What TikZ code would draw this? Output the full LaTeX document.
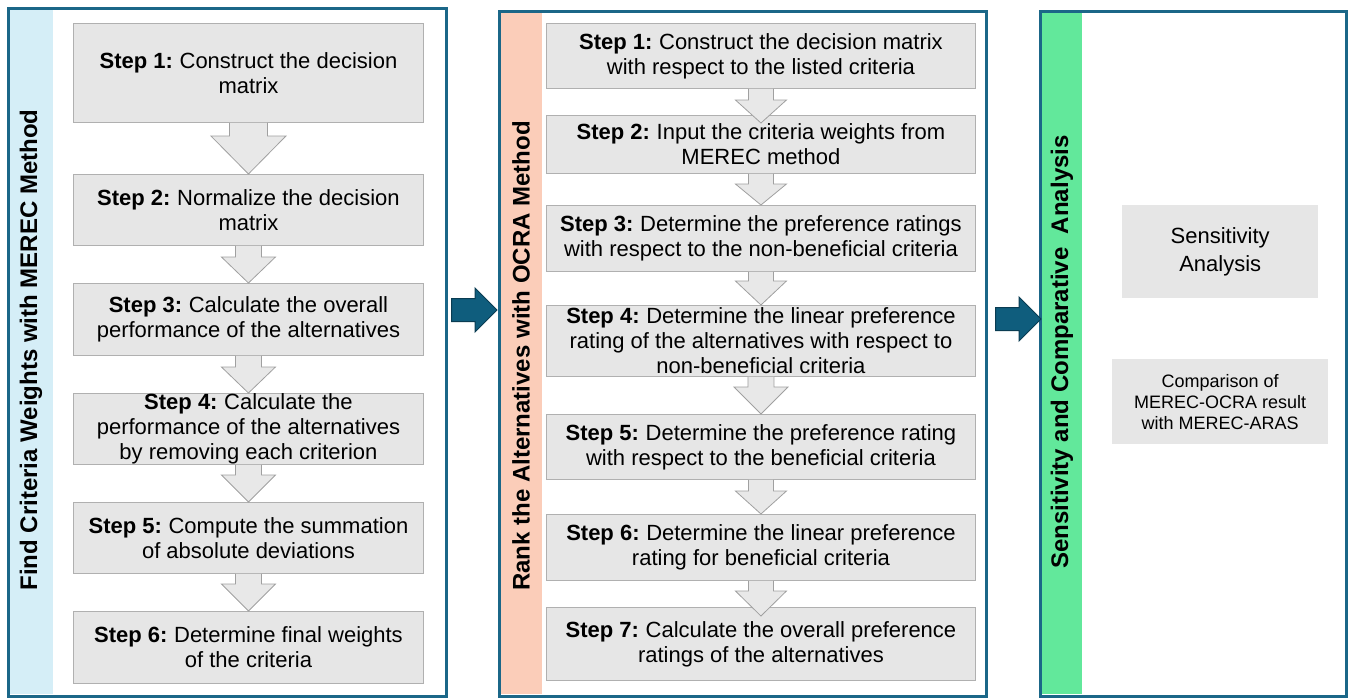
\documentclass[tikz,border=0pt]{standalone}
\usepackage{fontspec}
\setmainfont{Liberation Sans}
\usetikzlibrary{calc}
\definecolor{framec}{HTML}{1B6788}
\definecolor{stripA}{HTML}{D5EEF7}
\definecolor{stripB}{HTML}{FBCDB9}
\definecolor{stripC}{HTML}{62E89B}
\definecolor{boxfill}{HTML}{E6E6E6}
\definecolor{boxline}{HTML}{B0B0B0}
\definecolor{arrfill}{HTML}{E8E8E8}
\definecolor{arrline}{HTML}{A0A0A0}
\definecolor{bigfill}{HTML}{0F5D7D}
\definecolor{bigline}{HTML}{0A3C52}
\tikzset{
  panel/.style={draw=framec, line width=2.5pt, inner sep=0pt, anchor=north west},
  stepbox/.style={draw=boxline, line width=0.9pt, fill=boxfill, inner sep=0pt,
    anchor=north west, align=center, font=\fontsize{22}{25}\selectfont},
  sidebox/.style={fill=boxfill, inner sep=0pt, anchor=north west, align=center},
  vlabel/.style={rotate=90, font=\bfseries\fontsize{24}{28}\selectfont, inner sep=0pt},
  smallarrow/.style={draw=arrline, fill=arrfill, line width=0.8pt, line join=miter},
  bigarrow/.style={draw=bigline, fill=bigfill, line width=1pt, line join=miter}
}
\newcommand{\stp}[1]{\textbf{Step #1:}\hspace{-1.5pt}}
% #1 from, #2 to, #3 shaft half, #4 head half, #5 head length, #6 overlap of tip
\newcommand{\blockarr}[6]{%
  \path[smallarrow] let \p1=(#1.south), \p2=(#2.north) in
    (\x1-#3pt,\y1) -- (\x1-#3pt,\y2+#5pt-#6pt) -- (\x1-#4pt,\y2+#5pt-#6pt) --
    (\x1,\y2-#6pt) -- (\x1+#4pt,\y2+#5pt-#6pt) -- (\x1+#3pt,\y2+#5pt-#6pt) -- (\x1+#3pt,\y1);}
% #1 from panel, #2 to panel, #3 canvas y, #4 start offset, #5 tip offset
\newcommand{\bigarr}[5]{%
  \path[bigarrow] let \p1=(#1.east), \p2=(#2.west) in
    (\x1+#4pt,#3pt+11.5pt) -- (\x2+#5pt-22pt,#3pt+11.5pt) -- (\x2+#5pt-22pt,#3pt+22pt) --
    (\x2+#5pt,#3pt) -- (\x2+#5pt-22pt,#3pt-22pt) -- (\x2+#5pt-22pt,#3pt-11.5pt) --
    (\x1+#4pt,#3pt-11.5pt) -- cycle;}
\begin{document}
\begin{tikzpicture}[x=1pt,y=-1pt]
\useasboundingbox (0,0) rectangle (1349,697);
% side strips
\fill[stripA] (9,9) rectangle (53,694);
\fill[stripB] (500,12) rectangle (542,694);
\fill[stripC] (1041,12) rectangle (1082,694);
% panels
\node[panel, minimum width=438, minimum height=688] (P1) at (7,7) {};
\node[panel, minimum width=487, minimum height=685] (P2) at (498,10) {};
\node[panel, minimum width=306, minimum height=685] (P3) at (1039,10) {};
% vertical labels
\node[vlabel] (T1) at (31,350) {Find Criteria Weights with MEREC Method};
\node[vlabel] (T2) at (521,356) {Rank the Alternatives with OCRA Method};
\node[vlabel] (T3) at (1062,352) {Sensitivity and Comparative\ \ Analysis};
% left steps
\node[stepbox, minimum width=350, minimum height=99] (L1) at (73,23) {\stp{1} Construct the decision\\matrix};
\node[stepbox, minimum width=350, minimum height=71] (L2) at (73,174) {\stp{2} Normalize the decision\\matrix};
\node[stepbox, minimum width=350, minimum height=72] (L3) at (73,283) {\stp{3} Calculate the overall\\performance of the alternatives};
\node[stepbox, minimum width=350, minimum height=71] (L4) at (73,393) {\stp{4} Calculate the\\performance of the alternatives\\by removing each criterion};
\node[stepbox, minimum width=350, minimum height=71] (L5) at (73,502) {\stp{5} Compute the summation\\of absolute deviations};
\node[stepbox, minimum width=350, minimum height=72] (L6) at (73,611) {\stp{6} Determine final weights\\of the criteria};
% middle steps
\node[stepbox, minimum width=429, minimum height=65] (M1) at (546,23) {\stp{1} Construct the decision matrix\\with respect to the listed criteria};
\node[stepbox, minimum width=429, minimum height=58] (M2) at (546,115) {\stp{2} Input the criteria weights from\\MEREC method};
\node[stepbox, minimum width=429, minimum height=66] (M3) at (546,205) {\stp{3} Determine the preference ratings\\with respect to the non-beneficial criteria};
\node[stepbox, minimum width=429, minimum height=71] (M4) at (546,305) {\stp{4} Determine the linear preference\\rating of the alternatives with respect to\\non-beneficial criteria};
\node[stepbox, minimum width=429, minimum height=65] (M5) at (546,414) {\stp{5} Determine the preference rating\\with respect to the beneficial criteria};
\node[stepbox, minimum width=429, minimum height=66] (M6) at (546,514) {\stp{6} Determine the linear preference\\rating for beneficial criteria};
\node[stepbox, minimum width=429, minimum height=73] (M7) at (546,607) {\stp{7} Calculate the overall preference\\ratings of the alternatives};
% right boxes
\node[sidebox, minimum width=196, minimum height=93, font=\fontsize{22}{28}\selectfont] (R1) at (1122,205) {Sensitivity\\Analysis};
\node[sidebox, minimum width=216, minimum height=85, font=\fontsize{18}{21}\selectfont] (R2) at (1112,359) {Comparison of\\MEREC-OCRA result\\with MEREC-ARAS};
% small block arrows, left
\blockarr{L1}{L2}{19}{37.5}{38}{0}
\blockarr{L2}{L3}{13}{27}{26}{0}
\blockarr{L3}{L4}{13}{27}{26}{0}
\blockarr{L4}{L5}{13}{27}{27}{0}
\blockarr{L5}{L6}{13}{27}{27}{0}
% small block arrows, middle
\blockarr{M1}{M2}{12.5}{25.5}{23}{8}
\blockarr{M2}{M3}{12.5}{25.5}{21}{0}
\blockarr{M3}{M4}{12.5}{25.5}{24}{0}
\blockarr{M4}{M5}{13}{27}{27}{0}
\blockarr{M5}{M6}{12.5}{25.5}{23}{0}
\blockarr{M6}{M7}{12.5}{25.5}{25}{9}
% big arrows between panels
\bigarr{P1}{P2}{-310}{4}{-1}
\bigarr{P2}{P3}{-319}{8}{2}
\end{tikzpicture}
\end{document}
